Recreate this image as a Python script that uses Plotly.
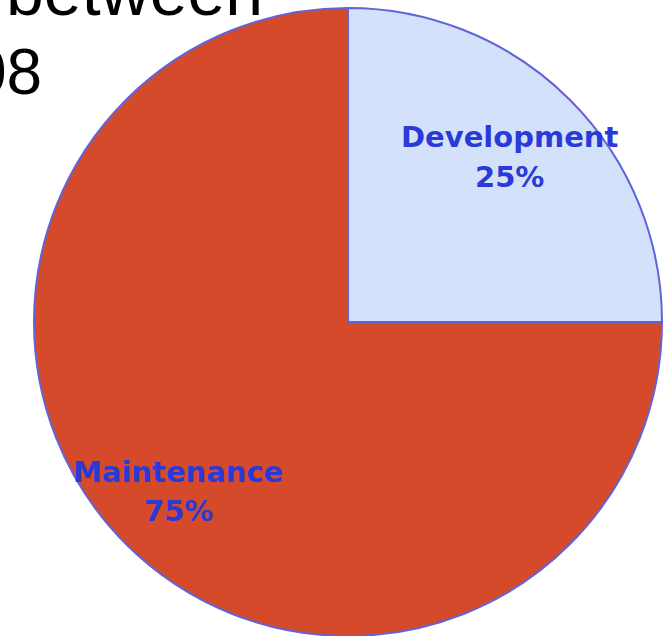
import plotly.graph_objects as go

# Share of effort by activity
labels = ["Development", "Maintenance"]
values = [25, 75]
colors = ["#D3E2FA", "#D54A2B"]

W, H = 666, 636
cx, cy, r = 348, 322, 314  # pie centre and radius in pixels

fig = go.Figure(
    go.Pie(
        labels=labels,
        values=values,
        sort=False,
        direction="clockwise",
        rotation=0,
        marker=dict(colors=colors, line=dict(color="#6363D8", width=2)),
        textinfo="none",
        hoverinfo="label+percent",
        showlegend=False,
        domain=dict(
            x=[(cx - r) / W, (cx + r) / W],
            y=[(H - cy - r) / H, (H - cy + r) / H],
        ),
    )
)

total = sum(values)
# (x, name line y, percent line y) in pixels
label_pos = {"Development": (510, 137, 177), "Maintenance": (178, 472, 511)}
label_font = dict(family="DejaVu Sans", size=29, color="#2B3AD6", weight="bold")
annotations = []
for lab, val in zip(labels, values):
    px, py1, py2 = label_pos[lab]
    for txt, py in ((lab, py1), (f"{round(100 * val / total)}%", py2)):
        annotations.append(
            dict(
                x=px / W, y=1 - py / H, xref="paper", yref="paper",
                text=txt, showarrow=False, xanchor="center", yanchor="middle",
                font=label_font,
            )
        )

# Title fragments at the top left
annotations.append(dict(
    x=4 / W, y=1 - 31 / H, xref="paper", yref="paper", text="between",
    showarrow=False, xanchor="left", yanchor="bottom",
    font=dict(family="Liberation Sans", size=68, color="#000000"),
))
annotations.append(dict(
    x=44 / W, y=1 - 72 / H, xref="paper", yref="paper", text="08",
    showarrow=False, xanchor="right", yanchor="middle",
    font=dict(family="Liberation Sans", size=64, color="#000000"),
))

fig.update_layout(
    width=W, height=H,
    margin=dict(l=0, r=0, t=0, b=0),
    paper_bgcolor="white",
    plot_bgcolor="white",
    annotations=annotations,
)

fig.write_html("out.html")
